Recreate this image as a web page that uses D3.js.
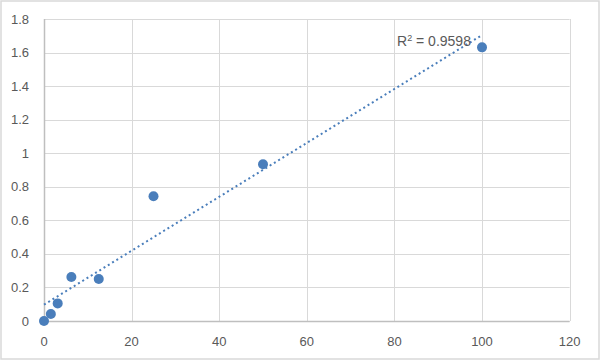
<!DOCTYPE html>
<html><head><meta charset="utf-8">
<script src="https://cdn.jsdelivr.net/npm/d3@7"></script>
<style>body{margin:0;background:#fff}svg{display:block}</style>
</head><body>
<svg id="c" width="600" height="361"></svg>
<script>
const xValues = [0, 1.5625, 3.125, 6.25, 12.5, 25, 50, 100];
const yValues = [0, 0.042, 0.105, 0.262, 0.25, 0.744, 0.934, 1.631];
const xTicks = [0, 20, 40, 60, 80, 100, 120];
const yTicks = [0, 0.2, 0.4, 0.6, 0.8, 1, 1.2, 1.4, 1.6, 1.8];
const r2Label = "0.9598";

const svg = d3.select("#c");
const font = "'Liberation Sans', Arial, sans-serif";
svg.append("rect").attr("x",1).attr("y",1).attr("width",598).attr("height",358)
  .attr("fill","#fff").attr("stroke","#d9d9d9").attr("stroke-width",1.5);

const x = d3.scaleLinear().domain([0,120]).range([44,569.6]);
const y = d3.scaleLinear().domain([0,1.8]).range([321,19]);

const g = svg.append("g");
g.selectAll(".hg").data(yTicks).join("line")
  .attr("x1",x(0)).attr("x2",x(120)).attr("y1",d=>Math.round(y(d))+0.5).attr("y2",d=>Math.round(y(d))+0.5)
  .attr("stroke","#d9d9d9").attr("stroke-width",1);
g.selectAll(".vg").data(xTicks).join("line")
  .attr("y1",y(0)).attr("y2",y(1.8)).attr("x1",d=>Math.round(x(d))+0.5).attr("x2",d=>Math.round(x(d))+0.5)
  .attr("stroke","#d9d9d9").attr("stroke-width",1);
g.append("line").attr("x1",x(0)).attr("x2",x(120)).attr("y1",Math.round(y(0))+0.5).attr("y2",Math.round(y(0))+0.5)
  .attr("stroke","#bfbfbf").attr("stroke-width",1.5);
g.append("line").attr("x1",Math.round(x(0))+0.5).attr("x2",Math.round(x(0))+0.5).attr("y1",y(0)).attr("y2",y(1.8))
  .attr("stroke","#bfbfbf").attr("stroke-width",1.5);

g.selectAll(".yl").data(yTicks).join("text")
  .attr("x",29).attr("y",d=>y(d)).attr("dy","0.35em").attr("text-anchor","end")
  .attr("font-family",font).attr("font-size",13).attr("fill","#595959").text(d=>d3.format("~g")(d));
g.selectAll(".xl").data(xTicks).join("text")
  .attr("x",d=>x(d)).attr("y",341).attr("dy","0.35em").attr("text-anchor","middle")
  .attr("font-family",font).attr("font-size",13).attr("fill","#595959").text(d=>d);

const n = xValues.length;
const mx = d3.mean(xValues), my = d3.mean(yValues);
let sxy=0, sxx=0;
for (let i=0;i<n;i++){ sxy += (xValues[i]-mx)*(yValues[i]-my); sxx += (xValues[i]-mx)**2; }
const slope = sxy/sxx, intercept = my - slope*mx;
const x0 = d3.min(xValues), x1 = d3.max(xValues);
g.append("line").attr("x1",x(x0)).attr("y1",y(intercept+slope*x0))
  .attr("x2",x(x1)).attr("y2",y(intercept+slope*x1))
  .attr("stroke","#4a7ebb").attr("stroke-width",2).attr("stroke-dasharray","2,3");

g.selectAll(".pt").data(xValues).join("circle")
  .attr("cx",(d)=>x(d)).attr("cy",(d,i)=>y(yValues[i])).attr("r",5)
  .attr("fill","#4a7ebb");

const t = g.append("text").attr("x",397).attr("y",41).attr("dy","0.35em")
  .attr("font-family",font).attr("font-size",14).attr("fill","#595959");
t.append("tspan").text("R");
t.append("tspan").attr("dy","-5").attr("font-size",9).text("2");
t.append("tspan").attr("dy","5").text(" = " + r2Label);
</script>
</body></html>
